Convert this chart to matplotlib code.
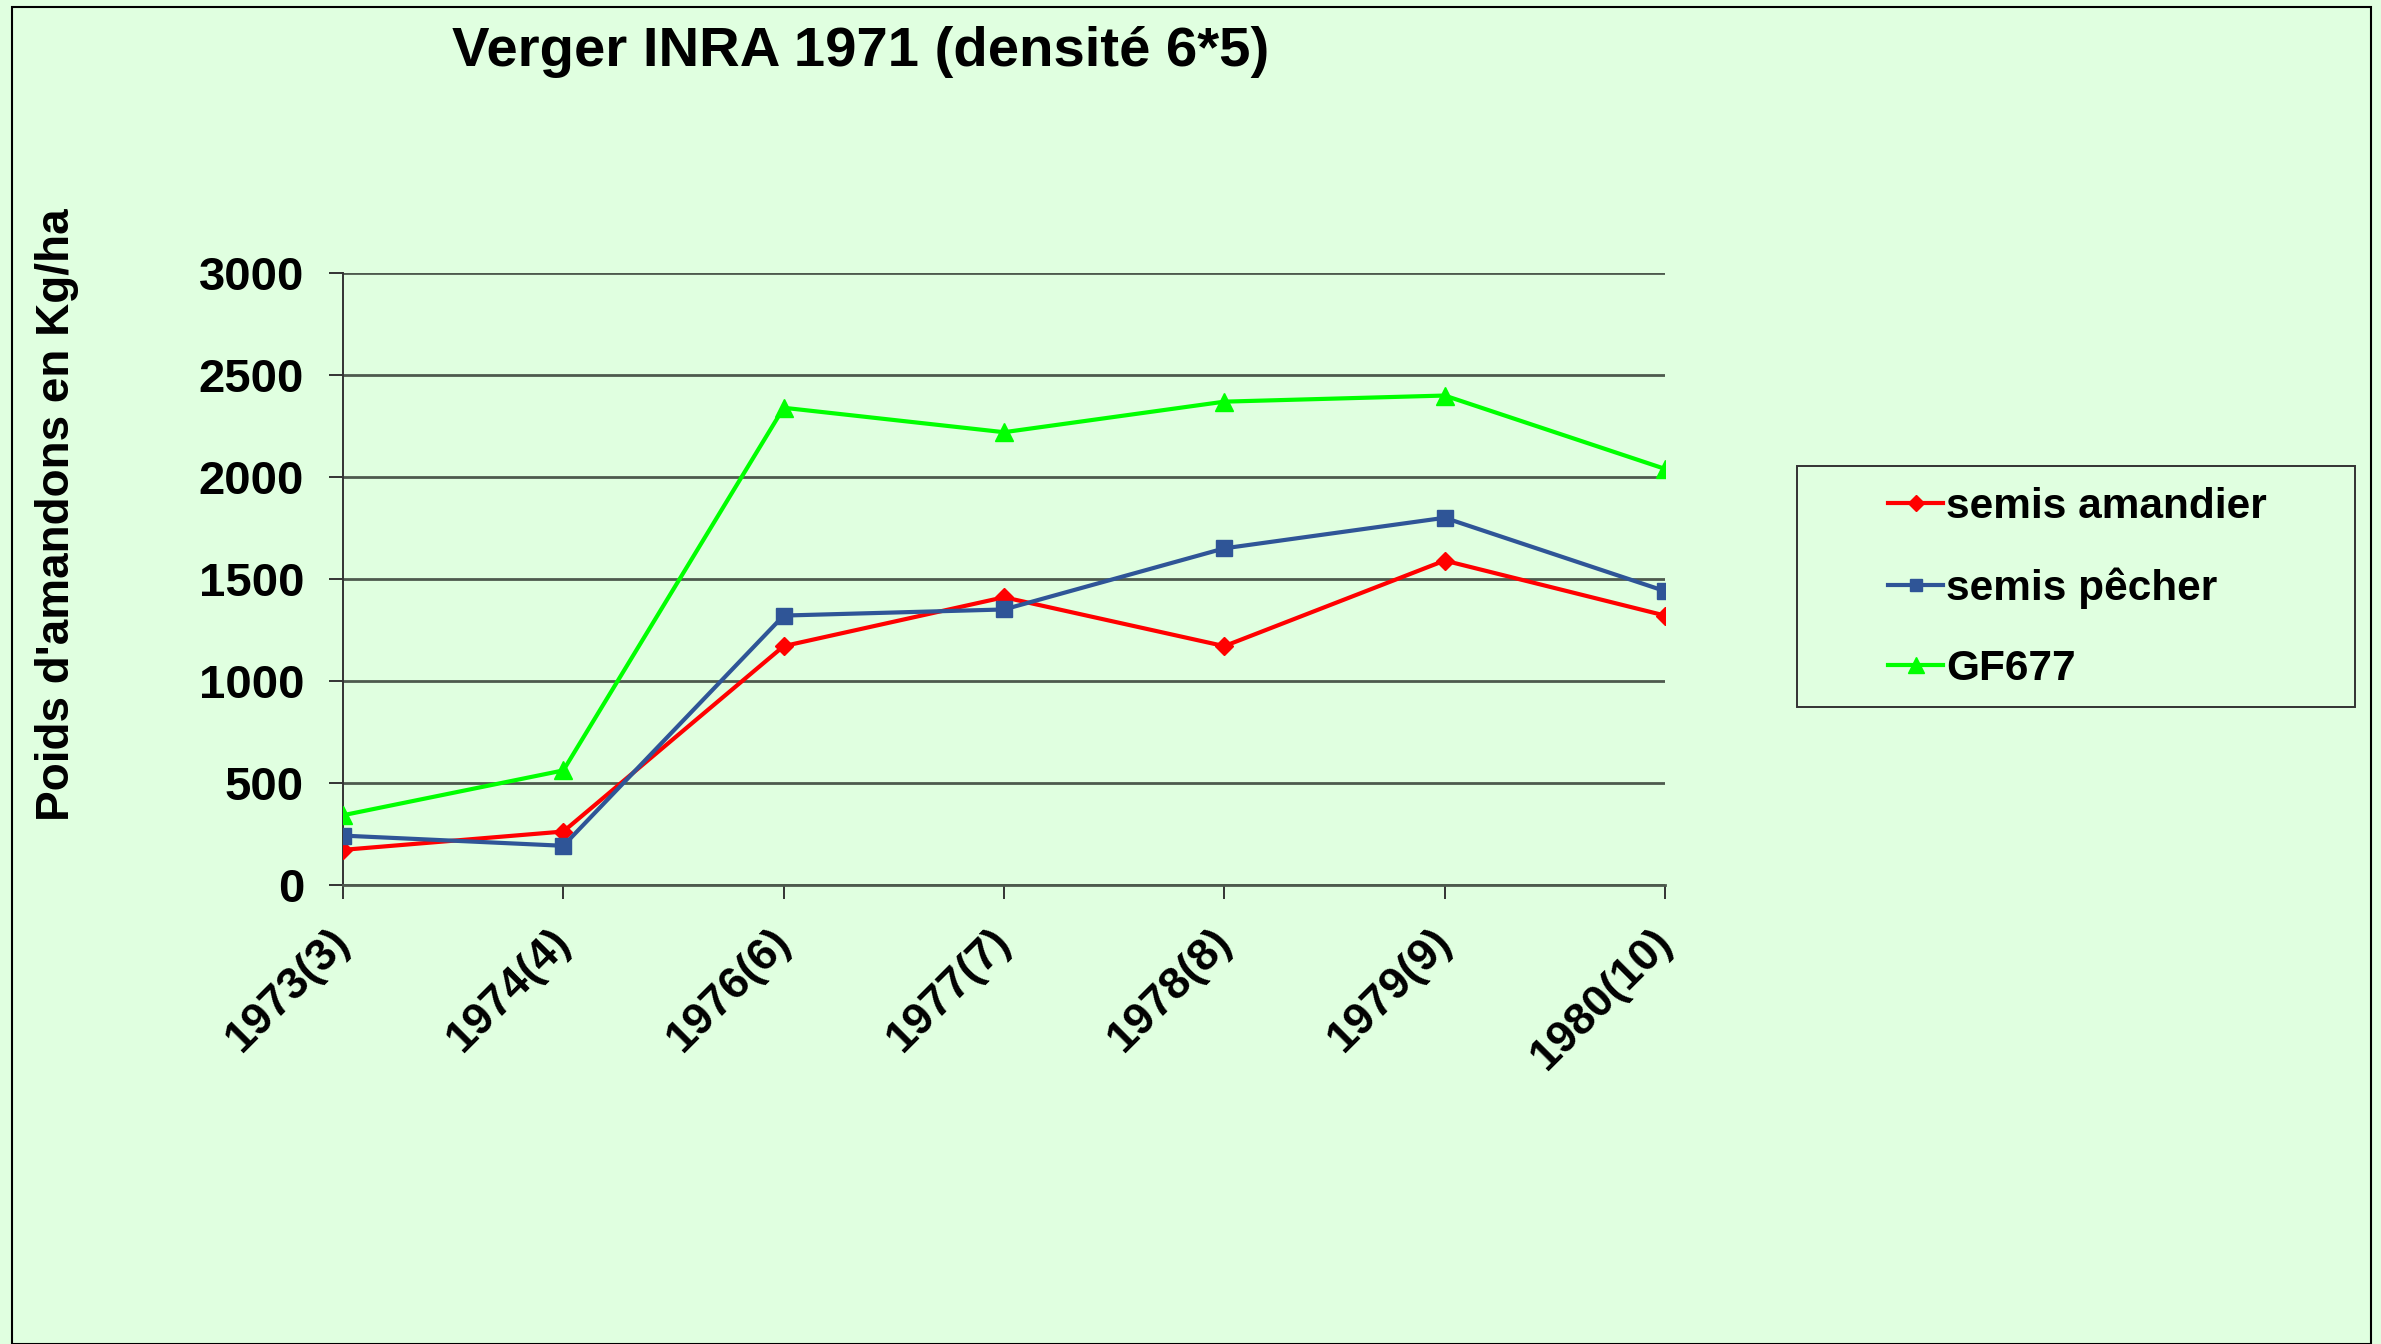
import matplotlib
matplotlib.use("Agg")
import matplotlib.pyplot as plt
from matplotlib.patches import Rectangle

# ---------------------------------
# Data (kg/ha)
# ---------------------------------
years = ["1973(3)", "1974(4)", "1976(6)", "1977(7)", "1978(8)", "1979(9)", "1980(10)"]
semis_amandier = [170, 260, 1170, 1410, 1170, 1590, 1320]
semis_pecher = [240, 190, 1320, 1350, 1650, 1800, 1440]
gf677 = [340, 560, 2340, 2220, 2370, 2400, 2040]
y_ticks = [0, 500, 1000, 1500, 2000, 2500, 3000]

bg = "#E0FFE0"
W, H = 2381, 1344

plt.rcParams['font.family'] = ['Liberation Sans', 'DejaVu Sans']
plt.rcParams['font.weight'] = 'bold'

fig = plt.figure(figsize=(W / 100, H / 100), dpi=100, facecolor=bg)

# outer border of the chart area
fig.patches.append(Rectangle((12 / W, 0), (2371 - 12) / W, 1 - 7 / H,
                             transform=fig.transFigure, fill=False,
                             edgecolor="black", linewidth=1.5))

ax = fig.add_axes([343 / W, 1 - 884.5 / H, (1665 - 343) / W, (884.5 - 273.3) / H])
ax.set_facecolor(bg)

x = list(range(len(years)))
ax.plot(x, semis_amandier, color="#FF0000", lw=3, marker="D", ms=9, label="semis amandier", zorder=3)
ax.plot(x, semis_pecher, color="#2F5597", lw=3, marker="s", ms=11, label="semis pêcher", zorder=3)
ax.plot(x, gf677, color="#00FF00", lw=3, marker="^", ms=13, label="GF677", zorder=3)

ax.set_xlim(0, len(years) - 1)
ax.set_ylim(0, 3000)
ax.set_yticks(y_ticks)
ax.set_xticks(x)
ax.set_xticklabels(years, rotation=45, ha="right", va="center", rotation_mode="anchor")

ax.yaxis.grid(True, color="#4D5A4D", lw=2)
ax.set_axisbelow(True)
for s in ["top", "right"]:
    ax.spines[s].set_visible(False)
ax.spines["left"].set_color("#333333")
ax.spines["left"].set_linewidth(1.4)
ax.spines["bottom"].set_color("#4D5A4D")
ax.spines["bottom"].set_linewidth(2)

ax.tick_params(axis="y", labelsize=34, length=10, width=1.4, color="#333333", pad=18)
ax.tick_params(axis="x", labelsize=32.5, length=10, width=1.4, color="#333333", pad=27)

fig.text(861 / W, 1 - 65.5 / H, "Verger INRA 1971 (densité 6*5)", fontsize=40.5,
         fontweight="bold", ha="center", va="baseline")
fig.text(57 / W, 1 - 515 / H, "Poids d'amandons en Kg/ha", fontsize=33,
         fontweight="bold", rotation=90, ha="center", va="center")

# legend box drawn separately
fig.patches.append(Rectangle((1797 / W, 1 - 707 / H), (2355 - 1797) / W, (707 - 466) / H,
                             transform=fig.transFigure, fill=False,
                             edgecolor="#333333", linewidth=1.4))
leg = fig.legend(loc="center left", bbox_to_anchor=(1888 / W, 1 - 588 / H),
                 frameon=False, fontsize=30.5, borderpad=0, borderaxespad=0,
                 handlelength=1.3, handletextpad=0.08, labelspacing=0.95,
                 numpoints=1, markerscale=0.85)

fig.savefig("out.png", dpi=100, facecolor=bg)
